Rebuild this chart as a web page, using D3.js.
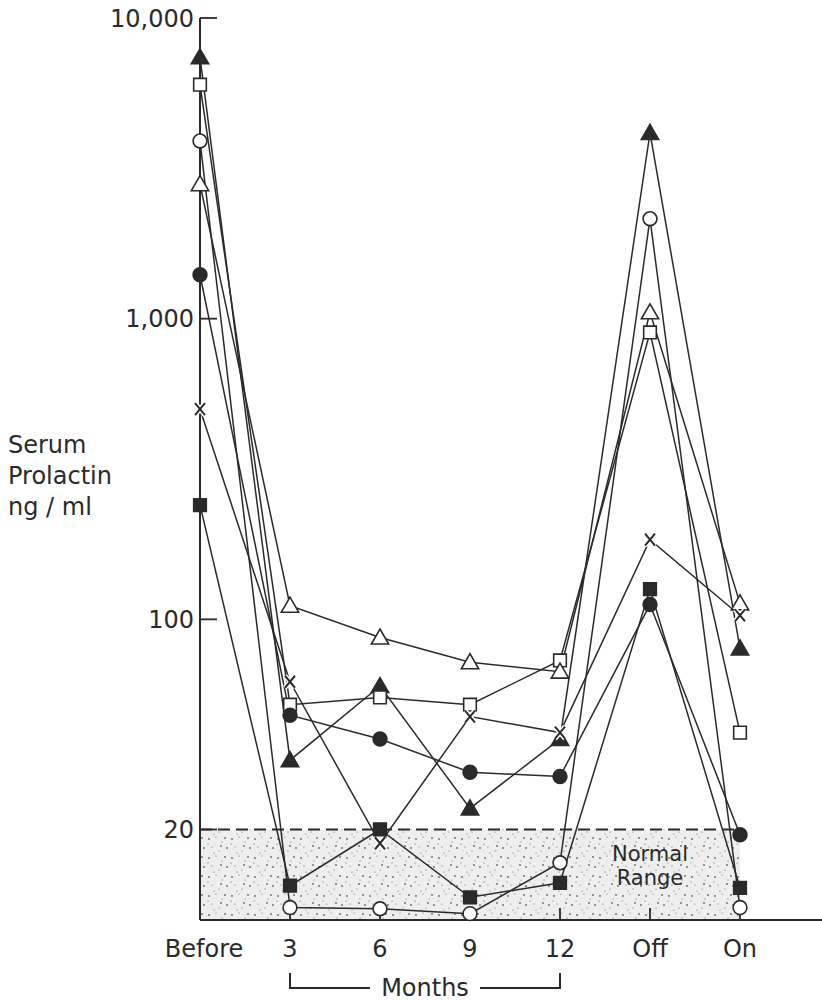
<!DOCTYPE html>
<html>
<head>
<meta charset="utf-8">
<script src="https://cdn.jsdelivr.net/npm/d3@7.9.0/dist/d3.min.js"></script>
<style>
  body { margin: 0; background: #fff; }
  svg { display: block; }
  text { font-family: "DejaVu Sans", sans-serif; fill: #2a2a2a; }
</style>
</head>
<body>
<svg id="chart" width="822" height="1001"></svg>
<script>
// time points
const periods = ['Before', '3', '6', '9', '12', 'Off', 'On'];
const yTicks = [20, 100, 1000, 10000];

// serum prolactin (ng/ml) per patient
const filledTriangle = [7400, 34, 60, 23.5, 40, 4150, 80];
const openSquare     = [6000, 52, 55, 52, 73, 900, 42];
const openCircle     = [3900, 11, 10.9, 10.5, 15.5, 2150, 11];
const openTriangle   = [2800, 111, 87, 72, 67, 1050, 113];
const filledCircle   = [1400, 48, 40, 31, 30, 112, 19.2];
const cross          = [500, 62, 18, 47.5, 42, 184, 103];
const filledSquare   = [240, 13, 20, 11.9, 13.3, 126, 12.8];

const series = [
  { name: 'filledTriangle', values: filledTriangle, shape: 'triangle', fill: true },
  { name: 'openSquare', values: openSquare, shape: 'square', fill: false },
  { name: 'openCircle', values: openCircle, shape: 'circle', fill: false },
  { name: 'openTriangle', values: openTriangle, shape: 'triangle', fill: false },
  { name: 'filledCircle', values: filledCircle, shape: 'circle', fill: true },
  { name: 'cross', values: cross, shape: 'cross', fill: false },
  { name: 'filledSquare', values: filledSquare, shape: 'square', fill: true }
];

const ink = '#2a2a2a';
const svg = d3.select('#chart');

const x = d3.scalePoint().domain(periods).range([200, 740]);
const y = d3.scaleLog().domain([10, 10000]).range([920, 18]);

// stippled normal range
const defs = svg.append('defs');
const pat = defs.append('pattern')
  .attr('id', 'stipple')
  .attr('patternUnits', 'userSpaceOnUse')
  .attr('width', 23).attr('height', 19);
pat.append('rect').attr('width', 23).attr('height', 19).attr('fill', '#eeeeee');
[[2, 3], [9, 1], [15, 6], [20, 12], [5, 11], [12, 15], [18, 2], [7, 17], [1, 8], [14, 10]].forEach(([px, py], i) => {
  pat.append('circle').attr('cx', px).attr('cy', py)
    .attr('r', i % 3 === 0 ? 0.9 : 0.6).attr('fill', '#666');
});

svg.append('rect')
  .attr('x', x('Before')).attr('y', y(20))
  .attr('width', x('On') - x('Before')).attr('height', y(10) - y(20))
  .attr('fill', 'url(#stipple)');

svg.append('line')
  .attr('x1', x('Before')).attr('x2', x('On'))
  .attr('y1', y(20)).attr('y2', y(20))
  .attr('stroke', ink).attr('stroke-width', 2)
  .attr('stroke-dasharray', '12,6');

svg.append('text').attr('x', x('Off')).attr('y', 861)
  .attr('text-anchor', 'middle').attr('font-size', 21).text('Normal');
svg.append('text').attr('x', x('Off')).attr('y', 885)
  .attr('text-anchor', 'middle').attr('font-size', 21).text('Range');

// y axis
svg.append('line')
  .attr('x1', 200).attr('x2', 200).attr('y1', y(10000)).attr('y2', y(10))
  .attr('stroke', ink).attr('stroke-width', 2);

const yt = svg.append('g').selectAll('g').data(yTicks).enter().append('g')
  .attr('transform', d => `translate(200,${y(d)})`);
yt.append('line').attr('x1', 0).attr('x2', 17).attr('stroke', ink).attr('stroke-width', 1.8);
yt.append('text').attr('x', -6).attr('dy', '0.36em')
  .attr('text-anchor', 'end').attr('font-size', 24)
  .text(d => d3.format(',')(d));

// x axis
svg.append('line')
  .attr('x1', 200).attr('x2', 822).attr('y1', y(10)).attr('y2', y(10))
  .attr('stroke', ink).attr('stroke-width', 2);

const xt = svg.append('g').selectAll('g').data(periods).enter().append('g')
  .attr('transform', d => `translate(${x(d)},${y(10)})`);
xt.filter(d => d !== 'Before').append('line')
  .attr('y1', 0).attr('y2', -12).attr('stroke', ink).attr('stroke-width', 1.8);
xt.append('text').attr('y', 37).attr('x', d => d === 'Before' ? 4 : 0)
  .attr('text-anchor', 'middle').attr('font-size', 24).text(d => d);

// months bracket
const bx1 = x('3'), bx2 = x('12'), by = 988;
svg.append('path')
  .attr('d', `M${bx1},${by - 15}V${by}H${(bx1 + bx2) / 2 - 55}M${(bx1 + bx2) / 2 + 55},${by}H${bx2}V${by - 15}`)
  .attr('fill', 'none').attr('stroke', ink).attr('stroke-width', 2);
svg.append('text').attr('x', (bx1 + bx2) / 2).attr('y', 996)
  .attr('text-anchor', 'middle').attr('font-size', 24).text('Months');

// y label
['Serum', 'Prolactin', 'ng / ml'].forEach((t, i) => {
  svg.append('text').attr('x', 8).attr('y', 453 + i * 31)
    .attr('font-size', 24).text(t);
});

// lines
const line = d3.line()
  .x((d, i) => x(periods[i]))
  .y(d => y(d));

svg.append('g').selectAll('path').data(series).enter().append('path')
  .attr('d', d => line(d.values))
  .attr('fill', 'none').attr('stroke', ink).attr('stroke-width', 1.5);

// markers
const sym = {
  triangle: d3.symbol().type(d3.symbolTriangle).size(130),
  square: d3.symbol().type(d3.symbolSquare).size(160),
  circle: d3.symbol().type(d3.symbolCircle).size(150)
};

series.forEach(s => {
  const g = svg.append('g');
  s.values.forEach((v, i) => {
    const cx = x(periods[i]), cy = y(v);
    const cr = `M${cx - 5},${cy - 6}L${cx + 5},${cy + 6}M${cx + 5},${cy - 6}L${cx - 5},${cy + 6}`;
    if (s.shape === 'cross') {
      g.append('path').attr('d', cr).attr('stroke', '#fff').attr('stroke-width', 5);
      g.append('path').attr('d', cr).attr('stroke', ink).attr('stroke-width', 2);
    } else {
      g.append('path')
        .attr('d', sym[s.shape]())
        .attr('transform', `translate(${cx},${cy + (s.shape === 'triangle' ? 1.5 : 0)})`)
        .attr('fill', s.fill ? ink : '#fff')
        .attr('stroke', ink).attr('stroke-width', 1.6);
    }
  });
});
</script>
</body>
</html>
